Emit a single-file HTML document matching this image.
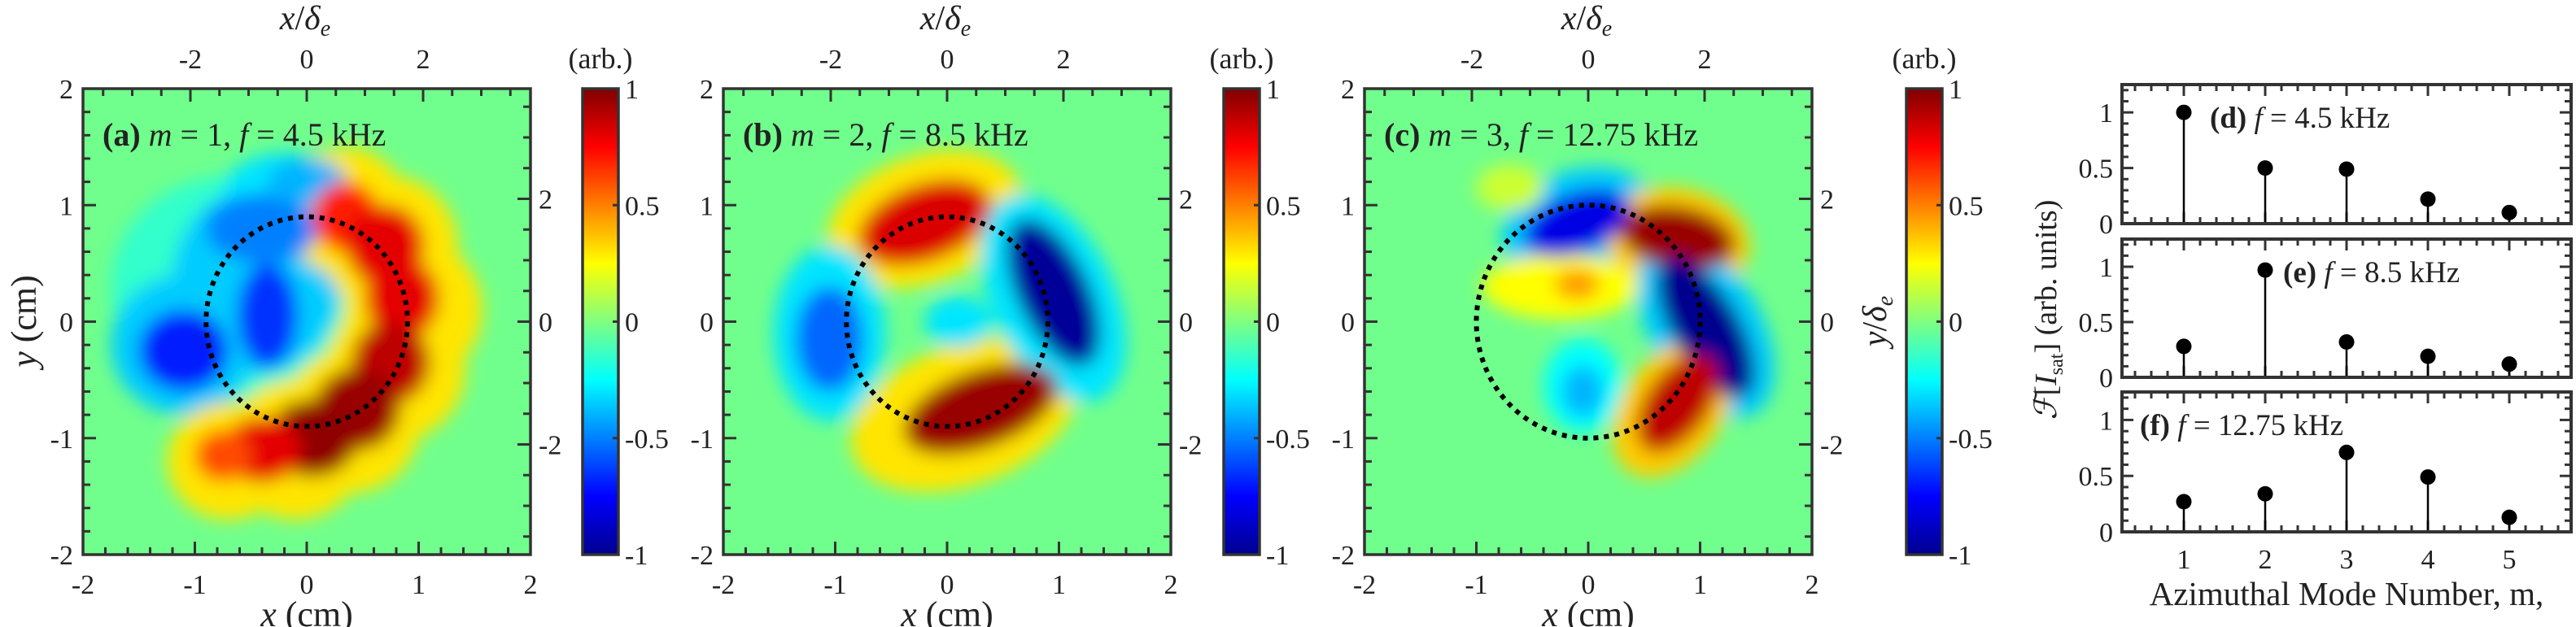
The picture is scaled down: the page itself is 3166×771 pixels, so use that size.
<!DOCTYPE html>
<html><head><meta charset="utf-8"><style>
html,body{margin:0;padding:0;background:#fff;}
svg{display:block;}
</style></head><body>
<svg id="fig" width="3166" height="771" viewBox="0 0 3166 771" xmlns="http://www.w3.org/2000/svg" font-family="Liberation Serif, serif">
<defs>
<filter id="blur" x="-20%" y="-20%" width="140%" height="140%"><feGaussianBlur stdDeviation="11"/></filter>
<linearGradient id="jet" x1="0" y1="1" x2="0" y2="0">
<stop offset="0" stop-color="#00008f"/><stop offset="0.125" stop-color="#0000ff"/><stop offset="0.375" stop-color="#00ffff"/><stop offset="0.5" stop-color="#80ff80"/><stop offset="0.625" stop-color="#ffff00"/><stop offset="0.875" stop-color="#ff0000"/><stop offset="1" stop-color="#800000"/>
</linearGradient>
</defs>
</svg>
<script>
// ---- heatmap blob data: [x_cm, y_cm, rx_cm, ry_cm, rotation_deg, value]
const blobsA = [
 [-0.7,0.3,1.05,0.95,0,-0.15],
 [-1.1,-0.2,0.65,0.6,0,-0.35],[-0.45,0.35,0.75,0.8,0,-0.35],[-0.2,1.1,0.55,0.35,0,-0.3],
 [0.35,0.95,0.55,0.55,0,0.3],[0.75,0.65,0.6,0.6,0,0.3],[0.95,0.1,0.62,0.62,0,0.3],[0.8,-0.4,0.62,0.62,0,0.3],[0.4,-0.85,0.62,0.62,0,0.3],[-0.1,-1.1,0.62,0.6,0,0.3],[-0.7,-1.2,0.55,0.5,0,0.3],
 [-1.1,-0.25,0.4,0.35,0,-0.7],[-0.35,0.05,0.27,0.45,0,-0.65],[-0.4,0.8,0.5,0.3,0,-0.5],[0.0,1.2,0.35,0.2,0,-0.4],
 [0.35,0.9,0.3,0.3,0,0.7],[0.7,0.65,0.35,0.35,0,0.8],[0.85,0.2,0.33,0.35,0,0.8],[0.75,-0.35,0.35,0.35,0,0.88],[0.45,-0.75,0.38,0.35,0,0.95],[0.05,-1.0,0.4,0.33,0,0.97],[-0.4,-1.1,0.35,0.28,0,0.8],[-0.75,-1.15,0.25,0.22,0,0.6]
];
const blobsB = [
 [-0.2,0.88,0.9,0.55,-20,0.3],[0.15,-0.8,1.05,0.6,-20,0.3],[0.95,0.2,0.55,0.95,-25,-0.3],[-1.05,-0.1,0.5,0.75,0,-0.3],
 [-0.2,0.85,0.62,0.33,-20,0.82],[0.3,-0.75,0.72,0.33,-20,0.95],[0.95,0.25,0.32,0.68,-25,-0.95],[-1.05,-0.15,0.3,0.45,0,-0.55],[0.1,0,0.3,0.22,0,-0.3]
];
const blobsC = [
 [-0.1,0.85,0.7,0.45,-20,-0.35],[0.8,0.7,0.65,0.45,10,0.35],[1.05,-0.05,0.5,0.85,-30,-0.35],[0.75,-0.75,0.45,0.65,35,0.35],
 [-0.25,0.3,0.7,0.28,0,0.25],[-0.05,-0.55,0.35,0.4,0,-0.25],[-0.7,1.15,0.3,0.2,0,0.15],
 [-0.1,0.85,0.5,0.26,-20,-0.8],[0.8,0.72,0.52,0.27,10,0.95],[1.05,-0.05,0.3,0.68,-30,-0.97],[0.8,-0.7,0.28,0.48,35,0.88],
 [-0.1,0.32,0.2,0.13,0,0.45],[-0.05,-0.6,0.18,0.22,0,-0.4]
];
const xTicksCm = [-2,-1,0,1,2];
const yTicksCm = [2,1,0,-1,-2];
const deTicks = [-2,0,2];
const cbTicks = [1,0.5,0,-0.5,-1];
// ---- stem data
const modes = [1,2,3,4,5];
const ampD = [1.0,0.5,0.49,0.22,0.1];
const ampE = [0.28,0.97,0.32,0.19,0.12];
const ampF = [0.27,0.34,0.71,0.49,0.13];
const stemYTicks = [0,0.5,1];

const NS='http://www.w3.org/2000/svg';
const svg=document.getElementById('fig');
const FF='Liberation Serif, serif';
function mk(tag,attrs,parent){const e=document.createElementNS(NS,tag);for(const k in attrs)e.setAttribute(k,attrs[k]);if(tag==='text'){e.setAttribute('font-family',FF);e.setAttribute('fill','#222');}(parent||svg).appendChild(e);return e;}
function jet(v){const t=(v+1)/2;const c=x=>Math.round(255*Math.max(0,Math.min(1,1.5-Math.abs(4*t-x))));return `rgb(${c(3)},${c(2)},${c(1)})`;}

const panels=[
 {left:102,cb:716,lab:'(a)',m:'1',f:'4.5',r:0.9,blobs:blobsA,ylab:true,rlab:false},
 {left:889,cb:1504,lab:'(b)',m:'2',f:'8.5',r:0.9,blobs:blobsB,ylab:false,rlab:false},
 {left:1677,cb:2343,lab:'(c)',m:'3',f:'12.75',r:1.0,blobs:blobsC,ylab:false,rlab:true}
];
const TOP=109,BOT=682,W=550;
panels.forEach((p,i)=>{
 const sx=x=>p.left+(x+2)*W/4, sy=y=>TOP+(2-y)*(BOT-TOP)/4;
 const g=mk('g',{});
 
 
 const cp=mk('clipPath',{id:'clip'+i},g);mk('rect',{x:p.left,y:TOP,width:W,height:BOT-TOP},cp);
 const hg=mk('g',{'clip-path':`url(#clip${i})`},g);
 const bg=mk('rect',{x:p.left,y:TOP,width:W,height:BOT-TOP,fill:'rgb(112,255,140)'},hg);
 
 
 const bl=mk('g',{filter:'url(#blur)'},hg);
 p.blobs.forEach(b=>{
  const e=mk('ellipse',{cx:sx(b[0]),cy:sy(b[1]),rx:b[2]*W/4,ry:b[3]*(BOT-TOP)/4,fill:jet(b[5]),transform:`rotate(${b[4]} ${sx(b[0])} ${sy(b[1])})`},bl);
  
  
 });
 const c=mk('ellipse',{cx:sx(0),cy:sy(0),rx:p.r*W/4,ry:p.r*(BOT-TOP)/4,fill:'none',stroke:'#000','stroke-width':6,'stroke-dasharray':'6 7'},g);
 
 
 for(let k=0;k<=20;k++){const x=-2+k*0.2,len=(Math.abs(x-Math.round(x))<1e-6)?16:9;
  mk('line',{x1:sx(x),x2:sx(x),y1:BOT,y2:BOT-len,stroke:'#333','stroke-width':3},g);
  const y=x;mk('line',{x1:p.left,x2:p.left+len,y1:sy(y),y2:sy(y),stroke:'#333','stroke-width':3},g);}
 const de=x=>sx(0)+x*71.5, dy=y=>sy(0)-y*75.5;
 for(let k=-7;k<=7;k++){const v=k*0.5,len=(k%4===0)?16:9;
  if(Math.abs(de(v)-sx(0))<=W/2)mk('line',{x1:de(v),x2:de(v),y1:TOP,y2:TOP+len,stroke:'#333','stroke-width':3},g);
  if(Math.abs(dy(v)-sy(0))<=(BOT-TOP)/2)mk('line',{x1:p.left+W,x2:p.left+W-len,y1:dy(v),y2:dy(v),stroke:'#333','stroke-width':3},g);}
 const fr=mk('rect',{x:p.left,y:TOP,width:W,height:BOT-TOP,fill:'none',stroke:'#333','stroke-width':3.5},g);
 
 
 xTicksCm.forEach(v=>{const t=mk('text',{x:sx(v),y:730,'text-anchor':'middle','font-size':34},g);t.textContent=v;
  
  });
 yTicksCm.forEach(v=>{const t=mk('text',{x:p.left-12,y:sy(v)+12,'text-anchor':'end','font-size':34},g);t.textContent=v;
  
  });
 deTicks.forEach(v=>{const t=mk('text',{x:de(v),y:84,'text-anchor':'middle','font-size':34},g);t.textContent=v;
  
  
  const t2=mk('text',{x:p.left+W+10,y:dy(v)+12,'font-size':34},g);t2.textContent=v;
  
  });
 const tl=mk('text',{x:p.left+24,y:179,'font-size':40},g);
 tl.innerHTML=`<tspan font-weight="bold">${p.lab}</tspan> <tspan font-style="italic">m</tspan> = ${p.m},  <tspan font-style="italic">f</tspan> = ${p.f} kHz`;
 
 
 const xl=mk('text',{x:p.left+W/2,y:770,'text-anchor':'middle','font-size':44},g);
 xl.innerHTML='<tspan font-style="italic">x</tspan> (cm)';
 
 
 const tx=mk('text',{x:p.left+W/2-2,y:36,'text-anchor':'middle','font-size':42},g);
 tx.innerHTML='<tspan font-style="italic">x</tspan>/<tspan font-style="italic">δ</tspan><tspan font-style="italic" font-size="28" dy="8">e</tspan>';
 
 
 if(p.ylab){const yl=mk('text',{x:0,y:0,'text-anchor':'middle','font-size':44,transform:'translate(44 395) rotate(-90)'},g);
  yl.innerHTML='<tspan font-style="italic">y</tspan> (cm)';
  
  }
 if(p.rlab){const rl=mk('text',{x:0,y:0,'text-anchor':'middle','font-size':42,transform:'translate(2318 395) rotate(-90)'},g);
  rl.innerHTML='<tspan font-style="italic">y</tspan>/<tspan font-style="italic">δ</tspan><tspan font-style="italic" font-size="28" dy="8">e</tspan>';
  
  }
 const cg=mk('g',{},g);
 
 
 mk('rect',{x:p.cb,y:TOP,width:44,height:BOT-TOP,fill:'url(#jet)',stroke:'#333','stroke-width':3.5},cg);
 const cy=v=>TOP+(1-v)/2*(BOT-TOP);
 cbTicks.forEach(v=>{mk('line',{x1:p.cb+44,x2:p.cb+37,y1:cy(v),y2:cy(v),stroke:'#333','stroke-width':3},cg);
  const t=mk('text',{x:p.cb+52,y:cy(v)+12,'font-size':34},cg);t.textContent=v;
  
  });
 const ar=mk('text',{x:p.cb+22,y:84,'text-anchor':'middle','font-size':36},cg);ar.textContent='(arb.)';
 
 
});

const SL=2608,SR=3160,XMIN=0.24,XMAX=5.76,YMAX=1.25;
const stems=[{top:104,bot:275,amp:ampD,lab:'(d)',f:'4.5',lx:2716},{top:294,bot:464,amp:ampE,lab:'(e)',f:'8.5',lx:2806},{top:482,bot:654,amp:ampF,lab:'(f)',f:'12.75',lx:2630}];
const sxm=m=>SL+(m-XMIN)/(XMAX-XMIN)*(SR-SL);
stems.forEach((s,i)=>{
 const sy=v=>s.bot-v/YMAX*(s.bot-s.top);
 const g=mk('g',{});
 
 
 for(let x=0.4;x<=5.61;x+=0.2){const maj=Math.abs(x-Math.round(x))<1e-6,len=maj?14:8;
  mk('line',{x1:sxm(x),x2:sxm(x),y1:s.bot,y2:s.bot-len,stroke:'#333','stroke-width':3},g);
  mk('line',{x1:sxm(x),x2:sxm(x),y1:s.top,y2:s.top+len,stroke:'#333','stroke-width':3},g);}
 for(let k=1;k<=12;k++){const v=k*0.1,maj=(k%5===0),len=maj?14:8;
  mk('line',{x1:SL,x2:SL+len,y1:sy(v),y2:sy(v),stroke:'#333','stroke-width':3},g);
  mk('line',{x1:SR,x2:SR-len,y1:sy(v),y2:sy(v),stroke:'#333','stroke-width':3},g);}
 modes.forEach((m,j)=>{const v=s.amp[j];
  const l=mk('line',{x1:sxm(m),x2:sxm(m),y1:sy(0),y2:sy(v),stroke:'#000','stroke-width':2.5},g);
  
  
  const c=mk('circle',{cx:sxm(m),cy:sy(v),r:9.5,fill:'#000'},g);
  
  });
 const fr=mk('rect',{x:SL,y:s.top,width:SR-SL,height:s.bot-s.top,fill:'none',stroke:'#333','stroke-width':4},g);
 
 
 stemYTicks.forEach(v=>{const t=mk('text',{x:2597,y:sy(v)+12,'text-anchor':'end','font-size':34},g);t.textContent=v;
  
  });
 const tl=mk('text',{x:s.lx,y:s.top+53,'font-size':37},g);
 tl.innerHTML=`<tspan font-weight="bold">${s.lab}</tspan> <tspan font-style="italic">f</tspan> = ${s.f} kHz`;
 
 
 if(i===2){modes.forEach(m=>{const t=mk('text',{x:sxm(m),y:699,'text-anchor':'middle','font-size':34},g);t.textContent=m;
  
  });}
});
const ax=mk('text',{x:2884,y:744,'text-anchor':'middle','font-size':41});
ax.textContent='Azimuthal Mode Number, m,';


const ay=mk('text',{x:0,y:0,'text-anchor':'middle','font-size':38,transform:'translate(2527 381) rotate(-90)'});
ay.innerHTML='<tspan font-style="italic">ℱ</tspan>[<tspan font-style="italic">I</tspan><tspan font-size="24" dy="8">sat</tspan><tspan dy="-8">]</tspan> (arb. units)';


</script>
</body></html>
